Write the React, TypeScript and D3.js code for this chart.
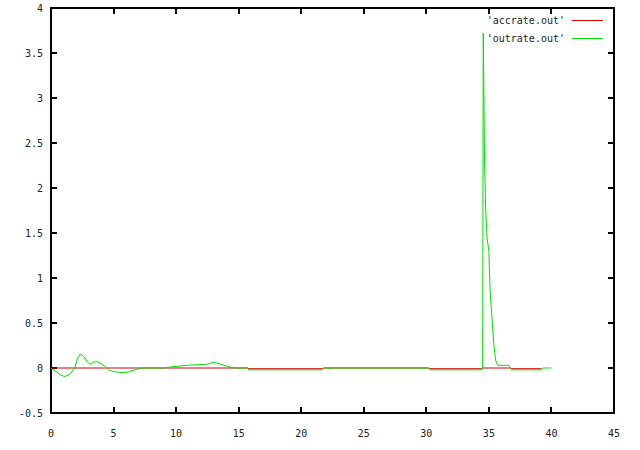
import React, { useRef, useEffect } from "react";
import * as d3 from "d3";

// accrate.out (red)
const accX = [0, 15.7, 15.8, 21.7, 21.8, 30.2, 30.3, 34.4, 34.5, 36.7, 36.8, 39.2];
const accY = [0, 0, -0.008, -0.008, 0, 0, -0.008, -0.008, 0, 0, -0.008, -0.008];

// outrate.out (green)
const outX = [
  0, 0.4, 0.8, 1.1, 1.5, 1.9, 2.1, 2.35, 2.6, 2.9, 3.1, 3.4, 3.7, 4.0, 4.3, 4.6, 5.0, 5.6, 6.2, 6.7, 7.2,
  8.0, 9.0, 9.5, 10.2, 10.9, 11.5, 12.4, 13.0, 13.5, 14.3, 14.8, 15.7, 15.8, 21.7, 21.8, 30.2, 30.3, 34.45,
  34.5, 34.55, 34.6, 34.65, 34.75, 34.85, 35.0, 35.1, 35.25, 35.4, 35.55, 35.7, 36.6, 36.8, 39.2, 39.3, 40.0,
];
const outY = [
  0, -0.04, -0.08, -0.095, -0.07, 0, 0.1, 0.155, 0.13, 0.07, 0.04, 0.065, 0.07, 0.05, 0.02, -0.02, -0.04, -0.05, -0.045, -0.02, 0,
  0, 0, 0.01, 0.02, 0.03, 0.035, 0.04, 0.065, 0.045, 0.01, 0, 0, -0.02, -0.02, 0, 0, -0.02, -0.02,
  0, 3.72, 3.1, 2.3, 1.75, 1.45, 1.3, 0.85, 0.55, 0.25, 0.08, 0.03, 0.03, -0.02, -0.02, 0, 0,
];

const xTicks = [0, 5, 10, 15, 20, 25, 30, 35, 40, 45];
const yTicks = [-0.5, 0, 0.5, 1, 1.5, 2, 2.5, 3, 3.5, 4];
const seriesNames = ["'accrate.out'", "'outrate.out'"];
const seriesColors = ["#d00000", "#00e000"];

export default function App() {
  const svgRef = useRef<SVGSVGElement>(null);

  useEffect(() => {
    const svg = d3.select(svgRef.current);
    svg.selectAll("*").remove();

    const left = 51, right = 614, top = 8, bottom = 413;
    const x = d3.scaleLinear().domain([0, 45]).range([left, right]);
    const y = d3.scaleLinear().domain([-0.5, 4]).range([bottom, top]);
    const font = "'DejaVu Sans Mono', monospace";
    const fs = 10;
    const tick = 6;

    svg.append("rect").attr("width", 640).attr("height", 450).attr("fill", "#fff");

    const g = svg.append("g").attr("shape-rendering", "crispEdges");

    // ticks (inward, mirrored)
    xTicks.forEach(t => {
      g.append("line").attr("x1", x(t)).attr("x2", x(t)).attr("y1", bottom).attr("y2", bottom - tick).attr("stroke", "#000").attr("stroke-width", 2);
      g.append("line").attr("x1", x(t)).attr("x2", x(t)).attr("y1", top).attr("y2", top + tick).attr("stroke", "#000").attr("stroke-width", 2);
      svg.append("text").attr("x", x(t)).attr("y", 437).attr("text-anchor", "middle")
        .attr("font-family", font).attr("font-size", fs).attr("fill", "#222").text(String(t));
    });
    yTicks.forEach(t => {
      g.append("line").attr("x1", left).attr("x2", left + tick).attr("y1", y(t)).attr("y2", y(t)).attr("stroke", "#000").attr("stroke-width", 2);
      g.append("line").attr("x1", right).attr("x2", right - tick).attr("y1", y(t)).attr("y2", y(t)).attr("stroke", "#000").attr("stroke-width", 2);
      svg.append("text").attr("x", 43).attr("y", y(t) + 4).attr("text-anchor", "end")
        .attr("font-family", font).attr("font-size", fs).attr("fill", "#222").text(String(t));
    });

    g.append("rect").attr("x", left).attr("y", top).attr("width", right - left).attr("height", bottom - top)
      .attr("fill", "none").attr("stroke", "#000").attr("stroke-width", 2);

    const line = d3.line<[number, number]>().x(d => x(d[0])).y(d => y(d[1]));
    const acc = accX.map((v, i) => [v, accY[i]] as [number, number]);
    const out = outX.map((v, i) => [v, outY[i]] as [number, number]);

    [acc, out].forEach((data, i) => {
      svg.append("path").attr("d", line(data)).attr("fill", "none")
        .attr("stroke", seriesColors[i]).attr("stroke-width", 1);
    });

    // legend
    seriesNames.forEach((name, i) => {
      const ly = 20 + i * 18;
      svg.append("text").attr("x", 565).attr("y", ly + 4).attr("text-anchor", "end")
        .attr("font-family", font).attr("font-size", fs).attr("fill", "#222").text(name);
      svg.append("line").attr("x1", 572).attr("x2", 603).attr("y1", ly).attr("y2", ly)
        .attr("stroke", seriesColors[i]).attr("stroke-width", 1).attr("shape-rendering", "crispEdges");
    });
  }, []);

  return <svg ref={svgRef} width={640} height={450} style={{ position: "absolute", left: 0, top: 0 }} />;
}
